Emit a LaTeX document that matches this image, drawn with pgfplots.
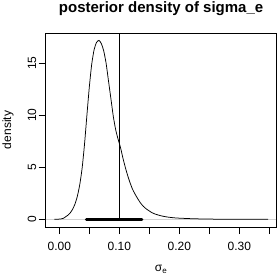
\documentclass[border=0pt]{standalone}
\usepackage{fontspec}
\setmainfont{Liberation Sans}
\usepackage{pgfplots}
\pgfplotsset{compat=1.18}
\begin{document}
\fontsize{12}{14}\selectfont
\begin{tikzpicture}
\path[use as bounding box] (0,0) rectangle (277pt,277pt);
\begin{axis}[
  at={(45.7pt,50pt)}, anchor=south west,
  width=230.8pt, height=194pt, scale only axis,
  xmin=-0.02267, xmax=0.3620, ymin=-0.74, ymax=17.91,
  axis line style={black, line width=0.75pt},
  tick style={black, line width=0.75pt},
  tick align=outside, major tick length=7pt,
  xtick pos=lower, ytick pos=left,
  xtick={0,0.05,0.1,0.15,0.2,0.25,0.3,0.35},
  xticklabels={0.00,,0.10,,0.20,,0.30,},
  ytick={0,5,10,15},
  yticklabels={0,5,10,15},
  /pgf/number format/assume math mode=true,
  tick label style={font=\fontsize{12}{14}\selectfont},
  xticklabel style={anchor=center, inner sep=0pt, yshift=-12.5pt},
  yticklabel style={rotate=90, anchor=center, inner sep=0pt, yshift=6.7pt},
  title={posterior density of sigma\_e},
  title style={font=\bfseries\fontsize{15}{18}\selectfont, at={(axis description cs:0.5,1)}, anchor=base, yshift=14.5pt, inner sep=0pt},
  xlabel={σ\textsubscript{e}},
  xlabel style={font=\fontsize{12}{14}\selectfont, at={(axis description cs:0.5,0)}, anchor=base, yshift=-44.7pt, inner sep=0pt},
  ylabel={density},
  ylabel style={font=\fontsize{12}{14}\selectfont, at={(axis description cs:0,0.5)}, anchor=base, yshift=34.5pt, inner sep=0pt},
  clip=true,
]
\addplot[gray!35, line width=0.4pt] coordinates {(-0.02267,0) (0.362,0)};
\addplot[black, line width=0.75pt, smooth, tension=0.4] coordinates {
(-0.0083,0) (-0.002,0.01) (0.003,0.04) (0.007,0.10) (0.010,0.22) (0.014,0.38)
(0.018,0.6) (0.022,0.95) (0.026,1.45) (0.030,2.2) (0.034,3.3) (0.038,4.9)
(0.042,7.2) (0.046,10.0) (0.050,12.7) (0.054,14.9) (0.058,16.3) (0.062,17.0)
(0.066,17.2) (0.070,16.9) (0.074,16.2) (0.078,15.0) (0.082,13.3) (0.086,11.6)
(0.090,9.9) (0.094,8.6) (0.098,7.7) (0.102,6.9) (0.106,5.9) (0.110,5.0)
(0.114,4.2) (0.118,3.5) (0.122,2.9) (0.126,2.45) (0.130,2.05) (0.135,1.6)
(0.140,1.25) (0.145,1.0) (0.150,0.8) (0.155,0.62) (0.160,0.5) (0.170,0.33)
(0.180,0.22) (0.190,0.15) (0.200,0.11) (0.220,0.06) (0.240,0.03) (0.260,0.015)
(0.280,0.008) (0.300,0.004) (0.320,0.002) (0.348,0.0)
};
\addplot[black, line width=0.75pt] coordinates {(0.1,0) (0.1,17.91)};
\addplot[black, line width=3pt, line cap=round] coordinates {(0.0453,0) (0.1375,0)};
\end{axis}
\end{tikzpicture}
\end{document}
